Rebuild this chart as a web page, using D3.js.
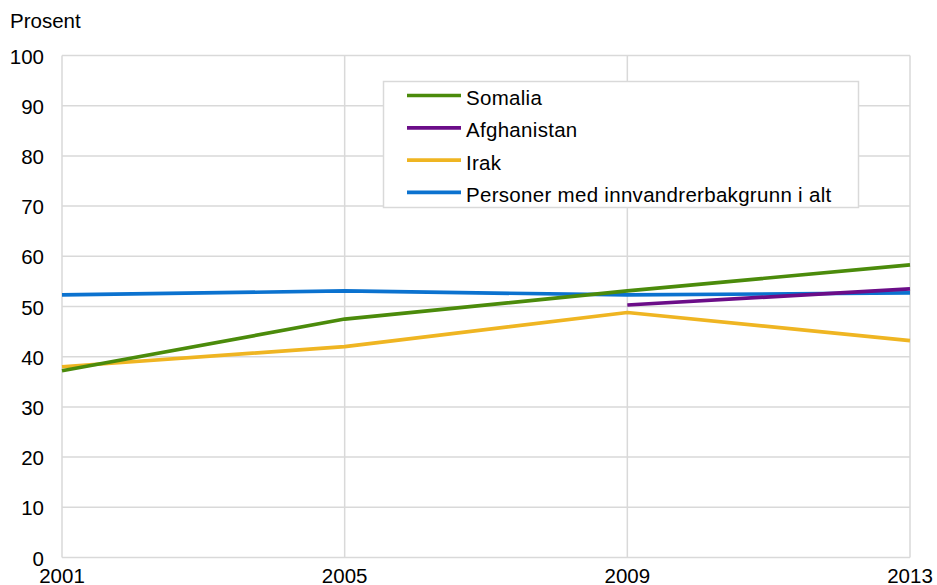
<!DOCTYPE html>
<html>
<head>
<meta charset="utf-8">
<script src="https://cdnjs.cloudflare.com/ajax/libs/d3/7.8.5/d3.min.js"></script>
<style>
  body { margin: 0; background: #fff; }
  svg { font-family: "Liberation Sans", Arial, sans-serif; }
</style>
</head>
<body>
<svg id="chart" width="937" height="585"></svg>
<script>
(function() {

  var years = [2001, 2005, 2009, 2013];
  var yTicks = [0, 10, 20, 30, 40, 50, 60, 70, 80, 90, 100];

  var seriesNames = ["Somalia", "Afghanistan", "Irak", "Personer med innvandrerbakgrunn i alt"];
  var seriesColors = ["#4b8b0b", "#6b0d88", "#efb522", "#0b72cf"];

  var somalia = [37.2, 47.5, 53.1, 58.3];
  var afghanistan = [null, null, 50.3, 53.5];
  var irak = [38.0, 42.0, 48.8, 43.2];
  var alle = [52.3, 53.1, 52.3, 52.7];

  var seriesValues = [somalia, afghanistan, irak, alle];
  // draw order: blue behind, then yellow, green, purple on top near 2013
  var drawOrder = [3, 2, 0, 1];

  var svg = d3.select("#chart");

  var x = d3.scaleLinear().domain([2001, 2013]).range([62, 910]);
  var y = d3.scaleLinear().domain([0, 100]).range([557.5, 55.5]);

  var grid = "#d9d9d9";
  var fs = "20.5px";

  // horizontal grid
  svg.append("g").selectAll("line")
    .data(yTicks)
    .enter().append("line")
    .attr("x1", x(2001)).attr("x2", x(2013))
    .attr("y1", function(d) { return y(d); })
    .attr("y2", function(d) { return y(d); })
    .style("stroke", grid)
    .style("stroke-width", 1.5);

  // vertical grid
  svg.append("g").selectAll("line")
    .data(years)
    .enter().append("line")
    .attr("x1", function(d) { return x(d); })
    .attr("x2", function(d) { return x(d); })
    .attr("y1", y(0)).attr("y2", y(100))
    .style("stroke", grid)
    .style("stroke-width", 1.5);

  // y tick labels
  svg.append("g").selectAll("text")
    .data(yTicks)
    .enter().append("text")
    .attr("x", 44)
    .attr("y", function(d) { return y(d) + 8; })
    .attr("text-anchor", "end")
    .style("font-size", fs)
    .attr("fill", "#000")
    .text(function(d) { return d; });

  // x tick labels (sit at the very bottom edge, as in the original)
  svg.append("g").selectAll("text")
    .data(years)
    .enter().append("text")
    .attr("x", function(d) { return x(d); })
    .attr("y", 583)
    .attr("text-anchor", "middle")
    .style("font-size", fs)
    .attr("fill", "#000")
    .text(function(d) { return d; });

  svg.append("text")
    .attr("x", 10)
    .attr("y", 28)
    .style("font-size", fs)
    .text("Prosent");

  var line = d3.line()
    .defined(function(d) { return d.v != null; })
    .x(function(d) { return x(d.year); })
    .y(function(d) { return y(d.v); });

  drawOrder.forEach(function(i) {
    var pts = years.map(function(yr, j) { return { year: yr, v: seriesValues[i][j] }; });
    svg.append("path")
      .datum(pts)
      .attr("d", line)
      .style("fill", "none")
      .style("stroke", seriesColors[i])
      .style("stroke-width", 3.7)
      .style("stroke-linejoin", "round");
  });

  // legend
  var lg = svg.append("g");
  lg.append("rect")
    .attr("x", 383.5).attr("y", 81.5)
    .attr("width", 475).attr("height", 126)
    .style("fill", "#fff")
    .style("stroke", grid)
    .style("stroke-width", 1.5);

  seriesNames.forEach(function(name, i) {
    var cy = 95.5 + i * 32.3;
    lg.append("line")
      .attr("x1", 407).attr("x2", 461)
      .attr("y1", cy).attr("y2", cy)
      .style("stroke", seriesColors[i])
      .style("stroke-width", 3.7);
    lg.append("text")
      .attr("x", 466)
      .attr("y", cy + 9.5)
      .style("font-size", fs)
      .style("letter-spacing", "0.3px")
      .text(name);
  });

})();
</script>
</body>
</html>
